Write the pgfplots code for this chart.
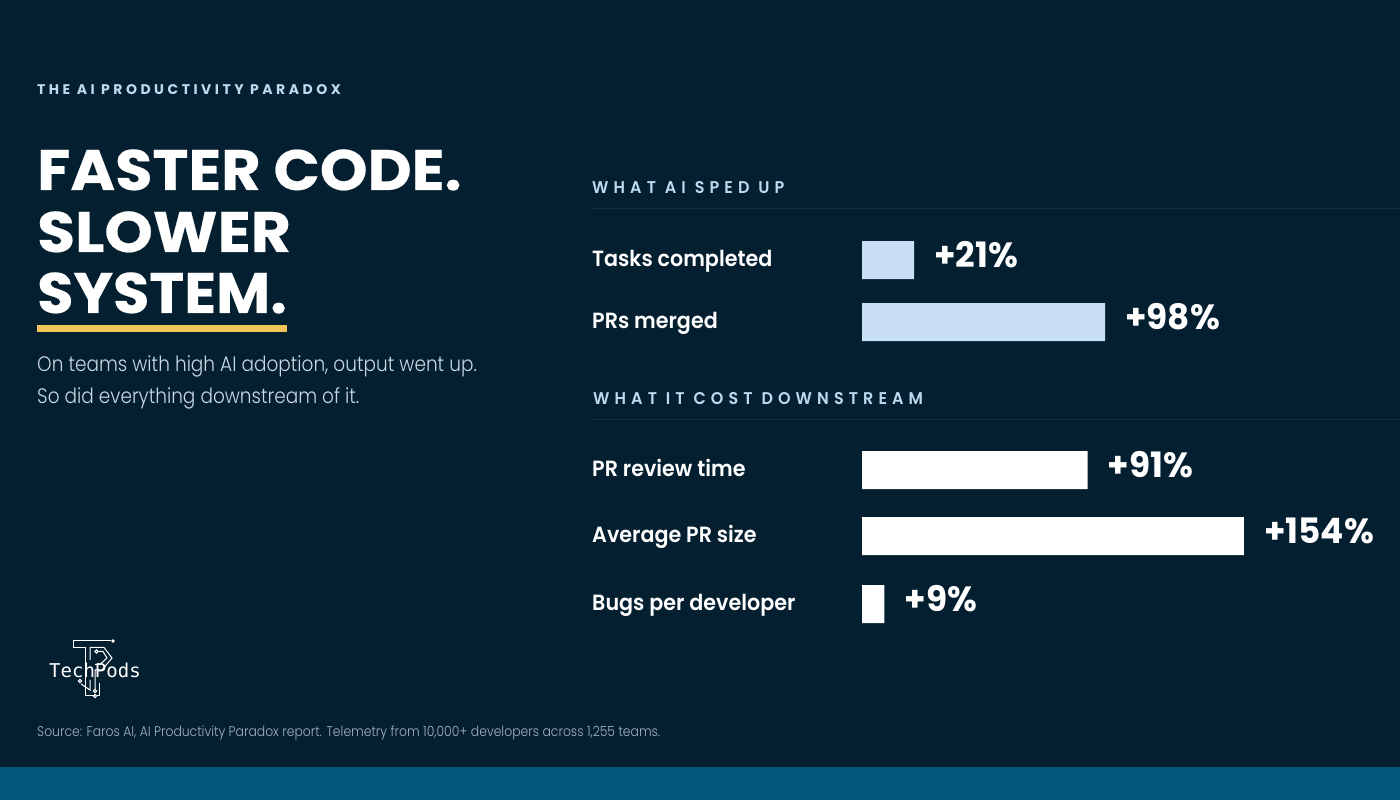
\documentclass[border=0pt]{standalone}
\usepackage{fontspec}
\usepackage{pgfplots}
\pgfplotsset{compat=1.18}
\usepackage{pgfplotstable}
\setmainfont{Poppins}
\newfontfamily\titlef[FakeStretch=1.065,FakeBold=0.4]{Poppins Bold}
\newfontfamily\titlesys[FakeStretch=1.035,FakeBold=0.4]{Poppins Bold}
\newfontfamily\titleslow[FakeStretch=1.08,FakeBold=0.4]{Poppins Bold}
\newfontfamily\eyef[LetterSpace=25]{Poppins Bold}
\newfontfamily\secf[LetterSpace=30,FakeStretch=0.94]{Poppins SemiBold}
\newfontfamily\labf[FakeStretch=0.94]{Poppins SemiBold}
\newfontfamily\valf[FakeStretch=0.98]{Poppins Bold}
\newfontfamily\subf[FakeStretch=0.88]{Poppins Light}
\newfontfamily\srcf[FakeStretch=0.885]{Poppins Light}
\newfontfamily\logof{DejaVu Sans Mono}
\definecolor{bg}{HTML}{041F30}
\definecolor{band}{HTML}{05567C}
\definecolor{lightbar}{HTML}{C8DFF5}
\definecolor{eyebrow}{HTML}{BBDAF0}
\definecolor{rulec}{HTML}{0F3142}
\definecolor{gold}{HTML}{F2C45A}
\definecolor{subc}{HTML}{C9D8E3}
\definecolor{srcc}{HTML}{A3B4BE}
\pgfplotstableread{
v y
21 260
98 322
}\sped
\pgfplotstableread{
v y
91 470
154 536
9 604
}\cost
\begin{document}
\begin{tikzpicture}[x=1pt,y=1pt]
\useasboundingbox (0,0) rectangle (1400,800);
\fill[bg] (0,0) rectangle (1400,800);
\fill[band] (0,0) rectangle (1400,33);
\begin{scope}[shift={(0,800)},y=-1pt,every node/.style={inner sep=0pt,anchor=base west}]
\node[text=eyebrow,font=\eyef\fontsize{14}{14}\selectfont] at (37,95) {THE AI PRODUCTIVITY PARADOX};
\node[text=white,font=\titlef\fontsize{57}{57}\selectfont] at (37,190) {FASTER CODE.};
\node[text=white,font=\titleslow\fontsize{57}{57}\selectfont] at (37,252) {SLOWER};
\node[text=white,font=\titlesys\fontsize{57}{57}\selectfont] at (37,313) {SYSTEM.};
\fill[gold] (37,325) rectangle (287,332);
\node[text=subc,font=\subf\fontsize{21}{21}\selectfont] at (37,372) {On teams with high AI adoption, output went up.};
\node[text=subc,font=\subf\fontsize{21}{21}\selectfont] at (37,403.5) {So did everything downstream of it.};
\node[text=eyebrow,font=\secf\fontsize{17}{17}\selectfont] at (592,194) {WHAT AI SPED UP};
\draw[rulec,line width=1pt] (592,208.5) -- (1400,208.5);
\node[text=eyebrow,font=\secf\fontsize{17}{17}\selectfont] at (593,405) {WHAT IT COST DOWNSTREAM};
\draw[rulec,line width=1pt] (592,419.5) -- (1400,419.5);
\node[text=srcc,font=\srcf\fontsize{14}{14}\selectfont] at (37,736.5) {Source: Faros AI, AI Productivity Paradox report. Telemetry from 10,000+ developers across 1,255 teams.};
% logo
\begin{scope}[white,line width=1pt]
\draw (111,641) -- (73,641) -- (73,647.5) -- (85,647.5) -- (85,696) -- (95,696);
\fill (113,641) circle (1.8);
\draw (90,660) -- (90,647.5) -- (104,647.5) -- (112,658) -- (102,670) -- (95,670) -- (95,690);
\draw (98.5,651.5) -- (103,651.5) -- (107,658) -- (100,664.5) -- (95,664.5);
\draw (90,680) -- (90,690) -- (81,684);
\draw (99,683) -- (99,696) -- (97,696);
\draw (96.5,651.5) circle (1.6);
\draw (95,691) circle (1.6);
\draw (95,696) circle (1.6);
\draw (80,681) circle (1.6);
\end{scope}
\node[text=white,font=\logof\fontsize{19}{19}\selectfont] at (49,678) {TechPods};
\end{scope}
\begin{axis}[
  at={(0,0)},anchor=south west,
  width=1400pt,height=800pt,scale only axis,
  xmin=-347.58,xmax=216.94,ymin=0,ymax=800,y dir=reverse,
  axis line style={draw=none},
  major tick length=0pt,
  xtick=\empty,
  ytick={260,322,470,536,604},
  yticklabels={Tasks completed,PRs merged,PR review time,Average PR size,Bugs per developer},
  yticklabel style={anchor=base west,inner sep=0pt,xshift=592pt,yshift=-6pt,text=white,font=\labf\fontsize{22}{22}\selectfont},
  tick label style={/pgf/number format/assume math mode=true},
  clip=false,
  xbar,
  bar shift=0pt,
  bar width=38pt,
  point meta=x,
  nodes near coords={+\pgfmathprintnumber[precision=0,assume math mode=true]{\pgfplotspointmeta}\%},
  every node near coord/.append style={anchor=base west,inner sep=0pt,xshift=20pt,yshift=-7pt,text=white,font=\valf\fontsize{35}{35}\selectfont},
]
\addplot[draw=none,fill=lightbar] table[x=v,y=y] {\sped};
\addplot[draw=none,fill=white] table[x=v,y=y] {\cost};
\end{axis}
\end{tikzpicture}
\end{document}
